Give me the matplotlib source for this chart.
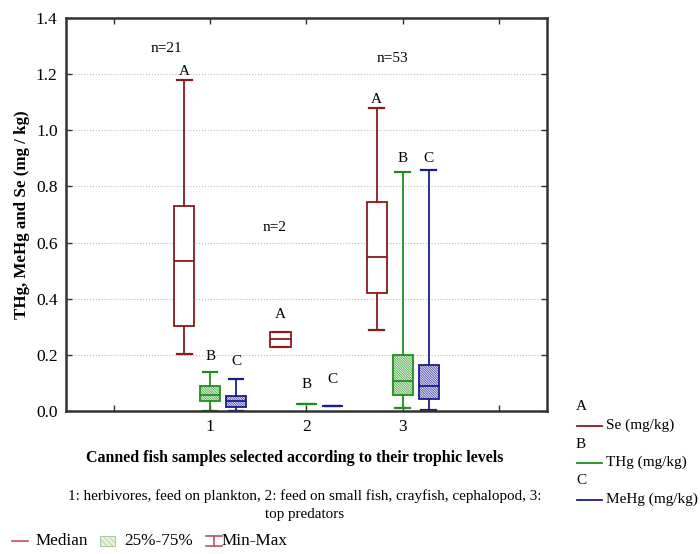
import matplotlib
matplotlib.use('Agg')
import matplotlib.pyplot as plt
from matplotlib.lines import Line2D
from matplotlib.patches import Rectangle

plt.rcParams['font.family'] = ['Liberation Serif', 'DejaVu Serif']
plt.rcParams['hatch.linewidth'] = 0.4

# trophic level groups
groups = [1, 2, 3]
n_labels = ['n=21', 'n=2', 'n=53']

# five-number summaries per group: min, q1, median, q3, max  (mg/kg)
se_min = [0.203, 0.228, 0.287]
se_q1 = [0.304, 0.228, 0.420]
se_med = [0.533, 0.255, 0.549]
se_q3 = [0.730, 0.281, 0.744]
se_max = [1.180, 0.281, 1.078]

thg_min = [0.002, 0.024, 0.012]
thg_q1 = [0.035, 0.024, 0.058]
thg_med = [0.058, 0.024, 0.107]
thg_q3 = [0.089, 0.024, 0.198]
thg_max = [0.139, 0.024, 0.853]

mehg_min = [0.002, 0.017, 0.004]
mehg_q1 = [0.015, 0.017, 0.042]
mehg_med = [0.037, 0.017, 0.089]
mehg_q3 = [0.055, 0.017, 0.163]
mehg_max = [0.115, 0.017, 0.859]

letters_se = ['A', 'A', 'A']
letters_thg = ['B', 'B', 'B']
letters_mehg = ['C', 'C', 'C']

se_color = '#8b1a1a'
thg_color = '#1f8f1f'
mehg_color = '#1c1c8e'
HATCH = '\\' * 14

fig = plt.figure(figsize=(7, 5.54), dpi=100)
ax = fig.add_axes([0.0943, 0.258, 0.687, 0.7095])


def draw_series(offset, mins, q1s, meds, q3s, maxs, color, face, hatch):
    stats = []
    for i in range(len(groups)):
        stats.append(dict(whislo=mins[i], q1=q1s[i], med=meds[i],
                          q3=q3s[i], whishi=maxs[i]))
    pos = [g + offset for g in groups]
    res = ax.bxp(stats, positions=pos, widths=0.21, capwidths=0.15,
                 showfliers=False, patch_artist=True,
                 boxprops=dict(edgecolor=color, facecolor=face, linewidth=1.3, hatch=hatch),
                 medianprops=dict(color=color, linewidth=1.3),
                 whiskerprops=dict(color=color, linewidth=1.3),
                 capprops=dict(color=color, linewidth=1.6),
                 manage_ticks=False)
    return res


draw_series(-0.27, se_min, se_q1, se_med, se_q3, se_max, se_color, 'white', None)
draw_series(0.0, thg_min, thg_q1, thg_med, thg_q3, thg_max, thg_color, '#e2f2dc', HATCH)
draw_series(0.27, mehg_min, mehg_q1, mehg_med, mehg_q3, mehg_max, mehg_color, '#e0e0f4', HATCH)

# significance letters above each whisker
se_dy = [0.03, 0.063, 0.033]
thg_dy = [0.054, 0.069, 0.048]
mehg_dy = [0.06, 0.096, 0.042]
for i, g in enumerate(groups):
    ax.text(g - 0.27, se_max[i] + se_dy[i], letters_se[i], ha='center', va='center', fontsize=11)
    ax.text(g, thg_max[i] + thg_dy[i], letters_thg[i], ha='center', va='center', fontsize=11)
    ax.text(g + 0.27, mehg_max[i] + mehg_dy[i], letters_mehg[i], ha='center', va='center', fontsize=11)

# sample sizes
n_x = [0.54, 1.67, 2.89]
n_y = [1.29, 0.655, 1.257]
for x, y, s in zip(n_x, n_y, n_labels):
    ax.text(x, y, s, ha='center', va='center', fontsize=11)

ax.set_xlim(-0.5, 4.5)
ax.set_ylim(0, 1.4)
ax.set_xticks([0, 1, 2, 3, 4])
ax.set_xticklabels(['', '1', '2', '3', ''])
ax.set_yticks([0, 0.2, 0.4, 0.6, 0.8, 1.0, 1.2, 1.4])
ax.set_yticklabels(['0.0', '0.2', '0.4', '0.6', '0.8', '1.0', '1.2', '1.4'])
ax.tick_params(direction='in', top=True, right=True, labelsize=12.5, length=4,
               width=1, colors='#333333', labelcolor='black', pad=6)
ax.yaxis.grid(True, linestyle=':', color='#bbbbbb', linewidth=0.8)
ax.set_axisbelow(True)
for sp in ax.spines.values():
    sp.set_linewidth(1.8)
    sp.set_color('#333333')

ax.set_ylabel('THg, MeHg and Se (mg / kg)', fontsize=12.2, fontweight='bold')
ax.yaxis.set_label_coords(-0.075, 0.5)
ax.set_xlabel('Canned fish samples selected according to their trophic levels',
              fontsize=11.5, fontweight='bold')
ax.xaxis.set_label_coords(0.476, -0.1)

fig.text(305 / 700, 1 - 505 / 554,
         '1: herbivores, feed on plankton, 2: feed on small fish, crayfish, cephalopod, 3:\ntop predators',
         ha='center', va='center', fontsize=10.9, linespacing=1.5)

# series key on the right
W, H = 700.0, 554.0
key = [('A', 'Se (mg/kg)', se_color), ('B', 'THg (mg/kg)', thg_color), ('C', 'MeHg (mg/kg)', mehg_color)]
for k, (letter, label, color) in enumerate(key):
    y0 = 407 + k * 37
    fig.text(576 / W, 1 - y0 / H, letter, ha='left', va='center', fontsize=11)
    fig.add_artist(Line2D([577 / W, 602 / W], [1 - (y0 + 18.5) / H] * 2, color=color, lw=1.3))
    fig.text(606 / W, 1 - (y0 + 18.5) / H, label, ha='left', va='center', fontsize=11)

# box style key at the bottom
yk = 1 - 541 / H
fig.add_artist(Line2D([12 / W, 28 / W], [yk, yk], color='#c05060', lw=1.2))
fig.text(36 / W, yk, 'Median', ha='left', va='center', fontsize=12.3)
fig.add_artist(Rectangle((100 / W, 1 - 546 / H), 15 / W, 10 / H, transform=fig.transFigure,
                         facecolor='#e6f2df', edgecolor='#9cc48c', hatch='\\\\\\\\\\\\', lw=0.6))
fig.text(124 / W, yk, '25%-75%', ha='left', va='center', fontsize=12.3)
fig.add_artist(Line2D([214 / W, 214 / W], [1 - 546 / H, 1 - 536 / H], color='#c05060', lw=1.2))
fig.add_artist(Line2D([206 / W, 222 / W], [1 - 536 / H] * 2, color='#c05060', lw=1.2))
fig.add_artist(Line2D([206 / W, 222 / W], [1 - 546 / H] * 2, color='#c05060', lw=1.2))
fig.text(222 / W, yk, 'Min-Max', ha='left', va='center', fontsize=12.3)

fig.savefig('out.png', dpi=100)
